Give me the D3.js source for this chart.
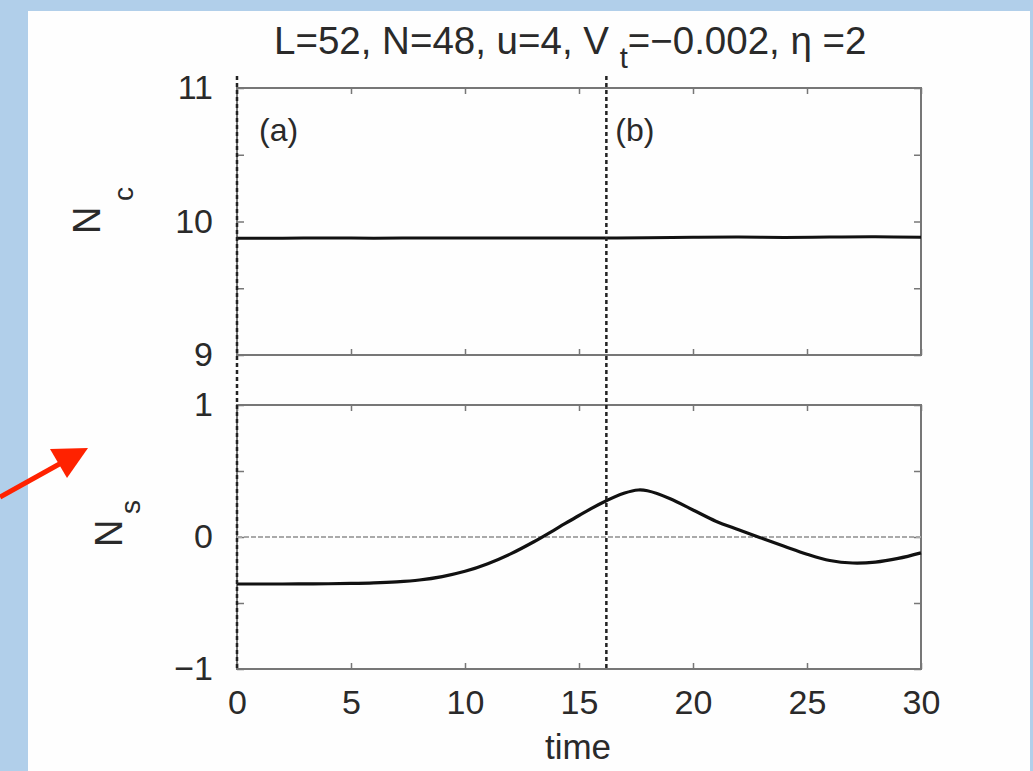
<!DOCTYPE html>
<html>
<head>
<meta charset="utf-8">
<script src="https://cdn.jsdelivr.net/npm/d3@7"></script>
<style>
  body { margin: 0; background: #b1cfea; }
  svg text { font-family: "Liberation Sans", Arial, sans-serif; fill: #2a2a2a; }
</style>
</head>
<body>
<div class="chart"></div>
<script>
var svgWidth = 1033;
var svgHeight = 771;

// data
var timeC = [0, 2, 4, 6, 8, 10, 12, 14, 16, 18, 20, 22, 24, 26, 28, 30];
var ncValues = [9.875, 9.875, 9.876, 9.875, 9.876, 9.877, 9.877, 9.876, 9.877, 9.878, 9.882, 9.884, 9.881, 9.884, 9.886, 9.882];

var timeS = [0, 1, 2, 3, 4, 5, 6, 7, 8, 9, 10, 11, 12, 13, 14, 15, 16, 17, 17.6, 18, 19, 20, 21, 22, 23, 24, 25, 26, 27, 28, 29, 30];
var nsValues = [-0.356, -0.356, -0.356, -0.355, -0.354, -0.352, -0.348, -0.34, -0.326, -0.3, -0.26, -0.202, -0.128, -0.038, 0.062, 0.163, 0.258, 0.333, 0.356, 0.35, 0.29, 0.205, 0.12, 0.055, -0.008, -0.07, -0.13, -0.178, -0.197, -0.19, -0.162, -0.12];

var xTicks = [0, 5, 10, 15, 20, 25, 30];
var ncTicks = [9, 9.5, 10, 10.5, 11];
var nsTicks = [-1, -0.5, 0, 0.5, 1];
var markTimes = [0, 16.2];
var markLabels = ["(a)", "(b)"];

var svg = d3.select(".chart")
  .append("svg")
  .attr("width", svgWidth)
  .attr("height", svgHeight);

// white page on blue slide
svg.append("rect")
  .attr("x", 28).attr("y", 11)
  .attr("width", 1002).attr("height", 760)
  .attr("fill", "#fefefe");

var left = 237, right = 921;
var topPanel = { y0: 88, y1: 355 };
var botPanel = { y0: 405, y1: 669 };

var x = d3.scaleLinear().domain([0, 30]).range([left, right]);
var yC = d3.scaleLinear().domain([9, 11]).range([topPanel.y1, topPanel.y0]);
var yS = d3.scaleLinear().domain([-1, 1]).range([botPanel.y1, botPanel.y0]);

function intLabel(d) {
  return Number.isInteger(d) ? d3.format("")(d).replace("-", "\u2212") : "";
}

function drawPanel(y, ticks, p, showX) {
  var g = svg.append("g");
  g.append("rect")
    .attr("x", left).attr("y", p.y0)
    .attr("width", right - left).attr("height", p.y1 - p.y0)
    .attr("fill", "none").attr("stroke", "#777").attr("stroke-width", 2);

  var bx = g.append("g").attr("transform", `translate(0, ${p.y1})`)
    .call(d3.axisBottom(x).tickValues(xTicks).tickSize(-6).tickPadding(21)
      .tickFormat(showX ? d3.format("") : ""));
  var tx = g.append("g").attr("transform", `translate(0, ${p.y0})`)
    .call(d3.axisTop(x).tickValues(xTicks).tickSize(-6).tickFormat(""));
  var ly = g.append("g").attr("transform", `translate(${left}, 0)`)
    .call(d3.axisLeft(y).tickValues(ticks).tickSize(-7).tickPadding(24).tickFormat(intLabel));
  var ry = g.append("g").attr("transform", `translate(${right}, 0)`)
    .call(d3.axisRight(y).tickValues(ticks).tickSize(-7).tickFormat(""));

  [bx, tx, ly, ry].forEach(function (a) {
    a.select(".domain").remove();
    a.selectAll("line").attr("stroke", "#777").attr("stroke-width", 1.5);
    a.selectAll("text").attr("font-size", 34).attr("fill", "#2a2a2a")
      .attr("font-family", "Liberation Sans, Arial, sans-serif");
  });
  return g;
}

drawPanel(yC, ncTicks, topPanel, false);
var bot = drawPanel(yS, nsTicks, botPanel, true);

// zero reference line
bot.append("line")
  .attr("x1", x(0)).attr("x2", x(30))
  .attr("y1", yS(0)).attr("y2", yS(0))
  .attr("stroke", "#aaa").attr("stroke-width", 2)
  .attr("stroke-dasharray", "5,2");

// curves
var lineC = d3.line().x(function (d, i) { return x(timeC[i]); }).y(function (d) { return yC(d); })
  .curve(d3.curveCatmullRom.alpha(0.5));
var lineS = d3.line().x(function (d, i) { return x(timeS[i]); }).y(function (d) { return yS(d); })
  .curve(d3.curveCatmullRom.alpha(0.5));

svg.append("path").datum(ncValues).attr("d", lineC)
  .attr("fill", "none").attr("stroke", "#111").attr("stroke-width", 3);
svg.append("path").datum(nsValues).attr("d", lineS)
  .attr("fill", "none").attr("stroke", "#111").attr("stroke-width", 3.2);

// vertical time markers
svg.selectAll(".mark")
  .data(markTimes)
  .enter()
  .append("line")
  .attr("class", "mark")
  .attr("x1", d => x(d)).attr("x2", d => x(d))
  .attr("y1", 76).attr("y2", botPanel.y1)
  .attr("stroke", "#222").attr("stroke-width", 2.5)
  .attr("stroke-dasharray", "4,3");

svg.selectAll(".markLabel")
  .data(markTimes)
  .enter()
  .append("text")
  .attr("class", "markLabel")
  .attr("x", (d, i) => x(d) + (i === 0 ? 22 : 9))
  .attr("y", 141)
  .attr("font-size", 32)
  .text((d, i) => markLabels[i]);

// title
var title = svg.append("text")
  .attr("x", 274).attr("y", 54)
  .attr("font-size", 38.5);
title.append("tspan").text("L=52, N=48, u=4, V ");
title.append("tspan").attr("dy", 14).attr("font-size", 29).text("t");
title.append("tspan").attr("dy", -14).text("=\u22120.002, \u03b7 =2");

// axis labels
svg.append("text")
  .attr("transform", "translate(100, 234) rotate(-90)")
  .attr("font-size", 38).text("N");
svg.append("text")
  .attr("transform", "translate(133, 201) rotate(-90)")
  .attr("font-size", 28).text("c");

svg.append("text")
  .attr("transform", "translate(122, 547) rotate(-90)")
  .attr("font-size", 38).text("N");
svg.append("text")
  .attr("transform", "translate(140, 514) rotate(-90)")
  .attr("font-size", 28).text("s");

svg.append("text")
  .attr("x", 578).attr("y", 759)
  .attr("text-anchor", "middle")
  .attr("font-size", 35)
  .text("time");

// red arrow annotation
svg.append("line")
  .attr("x1", 0).attr("y1", 497).attr("x2", 72).attr("y2", 457)
  .attr("stroke", "#ff2200").attr("stroke-width", 5);
svg.append("polygon")
  .attr("points", "88,448 50,449 67,478")
  .attr("fill", "#ff2200");
</script>
</body>
</html>
